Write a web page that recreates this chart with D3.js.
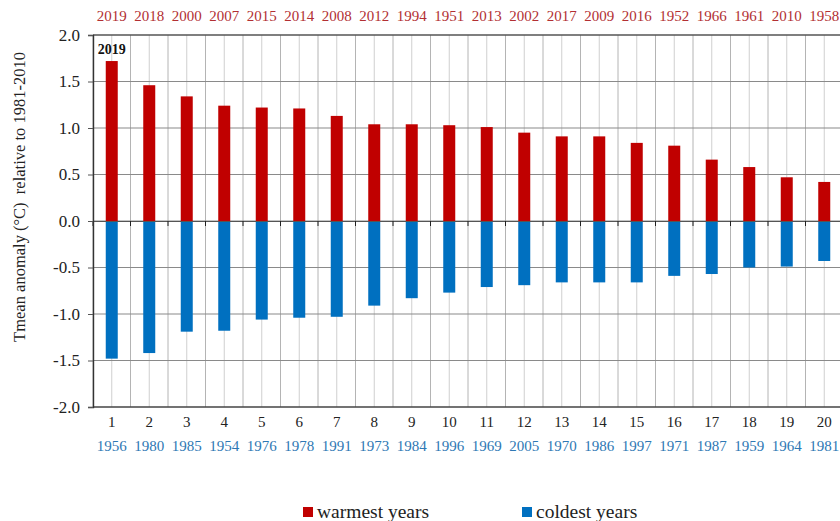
<!DOCTYPE html>
<html><head><meta charset="utf-8">
<script src="https://cdn.jsdelivr.net/npm/d3@7"></script>
<style>body{margin:0;background:#fff}svg{display:block}
svg text{font-family:"Liberation Serif","Times New Roman","DejaVu Serif",serif !important}</style>
</head><body>
<svg id="c" width="840" height="521"></svg>
<script>
const ranks = [1,2,3,4,5,6,7,8,9,10,11,12,13,14,15,16,17,18,19,20];
const warmYears = ["2019","2018","2000","2007","2015","2014","2008","2012","1994","1951","2013","2002","2017","2009","2016","1952","1966","1961","2010","1958"];
const warmValues = [1.72,1.46,1.34,1.24,1.22,1.21,1.13,1.04,1.04,1.03,1.01,0.95,0.91,0.91,0.84,0.81,0.66,0.58,0.47,0.42];
const coldYears = ["1956","1980","1985","1954","1976","1978","1991","1973","1984","1996","1969","2005","1970","1986","1997","1971","1987","1959","1964","1981"];
const coldValues = [-1.48,-1.42,-1.19,-1.18,-1.06,-1.04,-1.03,-0.91,-0.83,-0.77,-0.71,-0.69,-0.66,-0.66,-0.66,-0.59,-0.57,-0.50,-0.49,-0.43];
const yTicks = [-2.0,-1.5,-1.0,-0.5,0.0,0.5,1.0,1.5,2.0];

const svg = d3.select("#c");
const L = 93, R = 843, T = 35, B = 407;
const x = d3.scaleBand().domain(ranks).range([L, R]).padding(0);
const y = d3.scaleLinear().domain([-2, 2]).range([B, T]);
const bw = 12;

const g = svg.append("g");
ranks.forEach(r => {
  g.append("line").attr("x1", x(r)).attr("x2", x(r)).attr("y1", T).attr("y2", B)
    .attr("stroke", "#b4b4b4").attr("stroke-width", 1);
  const c = x(r) + x.bandwidth()/2;
  g.append("line").attr("x1", c).attr("x2", c).attr("y1", T).attr("y2", B)
    .attr("stroke", "#cfcfcf").attr("stroke-width", 1);
});
yTicks.forEach(t => {
  g.append("line").attr("x1", L).attr("x2", R).attr("y1", y(t)).attr("y2", y(t))
    .attr("stroke", t === 2 ? "#555" : (t === -2 ? "#444" : "#8a8a8a"))
    .attr("stroke-width", (t === 2 || t === -2) ? 1.6 : 1.1);
});

svg.append("g").selectAll("rect").data(ranks).join("rect")
  .attr("x", d => x(d) + x.bandwidth()/2 - bw/2)
  .attr("y", (d,i) => y(warmValues[i]))
  .attr("width", bw)
  .attr("height", (d,i) => y(0) - y(warmValues[i]))
  .attr("fill", "#C00000");
svg.append("g").selectAll("rect").data(ranks).join("rect")
  .attr("x", d => x(d) + x.bandwidth()/2 - bw/2)
  .attr("y", y(0))
  .attr("width", bw)
  .attr("height", (d,i) => y(coldValues[i]) - y(0))
  .attr("fill", "#0070C0");

const xAxis = d3.axisBottom(x).tickSize(5).tickFormat("");
const zx = svg.append("g").attr("transform", `translate(0,${y(0)})`).call(xAxis);
zx.select(".domain").attr("stroke", "#555");
zx.selectAll(".tick line").attr("stroke", "#222").attr("transform", `translate(${-x.bandwidth()/2},0)`);

const yAxis = d3.axisLeft(y).tickValues(yTicks).tickSize(5).tickPadding(8)
  .tickFormat(d => d3.format(".1f")(d).replace("\u2212", "-"));
const ya = svg.append("g").attr("transform", `translate(${L},0)`).call(yAxis);
ya.select(".domain").attr("stroke", "#333").attr("stroke-width", 1.4);
ya.selectAll(".tick line").attr("stroke", "#555");
ya.selectAll(".tick text").attr("font-size", 17).attr("fill", "#222");

svg.append("g").selectAll("text").data(ranks).join("text")
  .attr("x", d => x(d) + x.bandwidth()/2).attr("y", 427)
  .attr("text-anchor", "middle").attr("font-size", 15).attr("fill", "#222")
  .text(d => d);
svg.append("g").selectAll("text").data(ranks).join("text")
  .attr("x", d => x(d) + x.bandwidth()/2).attr("y", 451)
  .attr("text-anchor", "middle").attr("font-size", 15).attr("fill", "#2E78B4")
  .text((d,i) => coldYears[i]);
svg.append("g").selectAll("text").data(ranks).join("text")
  .attr("x", d => x(d) + x.bandwidth()/2).attr("y", 21)
  .attr("text-anchor", "middle").attr("font-size", 15).attr("fill", "#B22F33")
  .text((d,i) => warmYears[i]);

svg.append("text").attr("x", x(1) + x.bandwidth()/2).attr("y", 54)
  .attr("text-anchor", "middle").attr("font-size", 14).attr("font-weight", "bold")
  .attr("fill", "#111").text(warmYears[0]);

svg.append("text").attr("transform", `translate(25,197) rotate(-90)`)
  .attr("text-anchor", "middle").attr("font-size", 16.5).attr("fill", "#222")
  .attr("xml:space", "preserve")
  .text("Tmean anomaly (\u00B0C)  relative to 1981-2010");

const leg = [["warmest years", "#C00000", 303], ["coldest years", "#0070C0", 522]];
leg.forEach(([t, c, lx]) => {
  svg.append("rect").attr("x", lx).attr("y", 507).attr("width", 10).attr("height", 10).attr("fill", c);
  svg.append("text").attr("x", lx + 14).attr("y", 518).attr("font-size", 19.5)
    .attr("fill", "#222").text(t);
});
</script>
</body></html>
